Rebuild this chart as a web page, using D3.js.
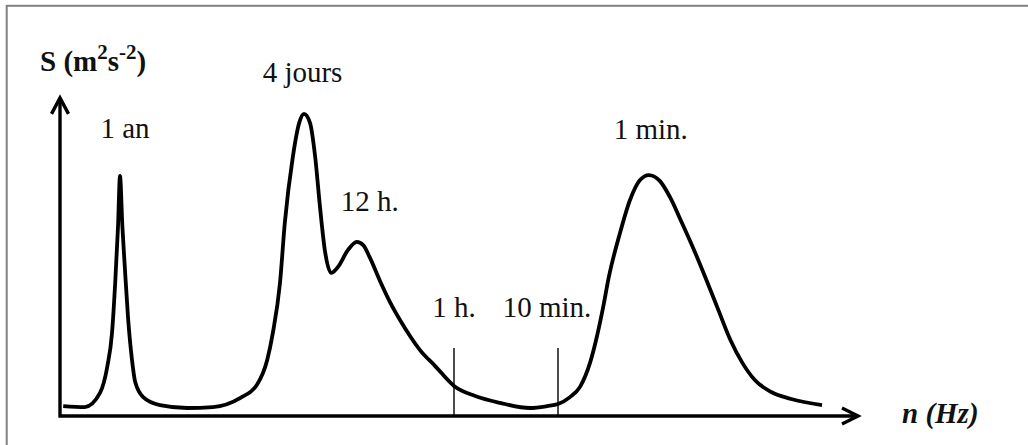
<!DOCTYPE html>
<html>
<head>
<meta charset="utf-8">
<script src="https://cdn.jsdelivr.net/npm/d3@7"></script>
<style>
  html, body { margin: 0; padding: 0; background: #fff; }
  svg { display: block; }
  text { font-family: "Liberation Serif", "Times New Roman", serif; fill: #111; }
</style>
</head>
<body>
<svg id="chart" width="1028" height="445"></svg>
<script>
// Schematic wind-speed energy spectrum (arbitrary units along both axes)
const freqPos = [0.4, 3.1, 5.0, 5.9, 6.5, 6.9, 7.25, 7.5, 7.8, 8.1, 8.5, 9.0, 9.4, 10.4, 12.5, 15.9,
  19.1, 22.5, 24.6, 25.9, 26.6, 27.5, 28.1, 29.1, 29.9, 30.5, 31.25, 31.9, 32.5, 33.1, 33.9, 34.75,
  36.0, 37.1, 37.9, 38.75, 40.0, 41.25, 42.5, 43.75, 45.0, 46.9, 49.25, 51.9, 55.0, 58.75, 60.9, 62.25,
  63.75, 65.0, 66.25, 67.1, 67.9, 68.6, 70.0, 71.25, 72.5, 73.6, 75.0, 76.25, 77.75, 79.25, 80.8,
  82.3, 83.8, 85.3, 86.85, 88.9, 91.4, 95.25];
const density = [3.1, 2.8, 7.2, 15.3, 25.9, 41.6, 59.1, 75.0, 59.1, 46.6, 30.9, 17.5, 10.6, 5.9, 3.4, 2.5,
  2.8, 5.6, 9.7, 17.5, 25.9, 41.6, 60.3, 80.9, 91.6, 94.4, 91.6, 80.9, 65.3, 51.9, 44.7, 46.6,
  51.9, 54.4, 53.4, 49.4, 42.2, 35.6, 30.0, 25.0, 20.6, 15.6, 9.4, 6.25, 4.1, 2.5, 3.1, 3.75,
  5.9, 9.1, 16.6, 24.7, 34.1, 43.4, 57.2, 67.5, 73.75, 75.3, 73.4, 68.4, 60.3, 51.9, 42.5,
  33.1, 23.75, 16.6, 11.25, 7.5, 5.3, 3.4];

// Named peaks of the spectrum
const peakLabels = ["1 an", "4 jours", "12 h.", "1 min."];
const peakPos = [7.5, 30.5, 37.1, 73.6];
const peakValue = [75.0, 94.4, 54.4, 75.3];

// Reference periods marked on the frequency axis
const markerLabels = ["1 h.", "10 min."];
const markerPos = [49.25, 62.25];
const markerHeight = 21.25;

const svg = d3.select("#chart");
const x = d3.scaleLinear().domain([0, 100]).range([60, 860]);
const y = d3.scaleLinear().domain([0, 100]).range([416, 96]);

// Outer frame
svg.append("rect")
  .attr("x", 6.7).attr("y", 5.8)
  .attr("width", 1100).attr("height", 500)
  .attr("fill", "none").attr("stroke", "#808080").attr("stroke-width", 2);

// Axes with arrow heads
const x0 = x(0), y0 = y(0);
const xTip = x(99.75), yTip = y(99.4);
svg.append("path")
  .attr("d", `M${x0},${yTip} L${x0},${y0 + 1.5} M${x0 - 1.5},${y0} L${xTip},${y0}`)
  .attr("fill", "none").attr("stroke", "#000").attr("stroke-width", 3.4);
svg.append("path")
  .attr("d", `M${x0 - 8.5},${yTip + 16} L${x0},${yTip} L${x0 + 8.5},${yTip + 16}` +
             ` M${xTip - 16},${y0 - 8} L${xTip},${y0} L${xTip - 16},${y0 + 8}`)
  .attr("fill", "none").attr("stroke", "#000").attr("stroke-width", 3.4)
  .attr("stroke-linejoin", "miter");

// Period markers on the frequency axis
svg.selectAll("line.marker")
  .data(markerPos)
  .join("line")
  .attr("class", "marker")
  .attr("x1", d => x(d)).attr("x2", d => x(d))
  .attr("y1", y0).attr("y2", y(markerHeight))
  .attr("stroke", "#000").attr("stroke-width", 1.4);

const markerDx = [0, -11];
svg.selectAll("text.marker")
  .data(markerLabels)
  .join("text")
  .attr("class", "marker")
  .attr("x", (d, i) => x(markerPos[i]) + markerDx[i])
  .attr("y", y(markerHeight) - 31)
  .attr("text-anchor", "middle")
  .attr("font-size", 29)
  .text(d => d);

// Spectrum curve
const pts = freqPos.map((f, i) => [f, density[i]]);
svg.append("path")
  .datum(pts)
  .attr("d", d3.line().x(d => x(d[0])).y(d => y(d[1])).curve(d3.curveMonotoneX))
  .attr("fill", "none").attr("stroke", "#000").attr("stroke-width", 3.8)
  .attr("stroke-linejoin", "round").attr("stroke-linecap", "butt");

// Peak labels
const peakDx = [5, -1.5, 13, 2];
const peakDy = [-38, -32, -31, -36];
svg.selectAll("text.peak")
  .data(peakLabels)
  .join("text")
  .attr("class", "peak")
  .attr("x", (d, i) => x(peakPos[i]) + peakDx[i])
  .attr("y", (d, i) => y(peakValue[i]) + peakDy[i])
  .attr("text-anchor", "middle")
  .attr("font-size", 29)
  .text(d => d);

// Axis titles
const yTitle = svg.append("text")
  .attr("x", 40).attr("y", 71)
  .attr("font-size", 29).attr("font-weight", "bold");
yTitle.append("tspan").text("S (m");
yTitle.append("tspan").attr("font-size", 21).attr("dy", -12).text("2");
yTitle.append("tspan").attr("dy", 12).text("s");
yTitle.append("tspan").attr("font-size", 21).attr("dy", -12).text("-2");
yTitle.append("tspan").attr("dy", 12).text(")");

svg.append("text")
  .attr("x", 902).attr("y", 423)
  .attr("font-size", 29).attr("font-weight", "bold").attr("font-style", "italic")
  .text("n (Hz)");
</script>
</body>
</html>
